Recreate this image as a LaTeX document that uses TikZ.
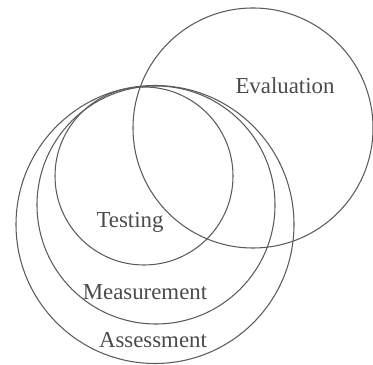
\documentclass[tikz,border=0pt]{standalone}
\usepackage{fontspec}
\setmainfont{Liberation Serif}
\usepackage{tikz}
\definecolor{INK}{HTML}{4A4A4A}
\definecolor{RING}{HTML}{5A5A5A}

\begin{document}
\begin{tikzpicture}[x=0.03cm,y=0.03cm]
\tikzset{ring/.style={RING,line width=0.9pt},lbl/.style={INK,font=\fontsize{19.5}{20}\selectfont,inner sep=0pt}}
\useasboundingbox (0,0) rectangle (373,364);
\draw[ring] (253,236) circle (120);
\draw[ring] (144,188) circle (89);
\draw[ring] (156,159) circle (119);
\draw[ring] (155,139.5) circle (139);
\node[lbl] (eval) at (285,278) {Evaluation};
\node[lbl] (test) at (130,142) {Testing};
\node[lbl] (meas) at (145,72) {Measurement};
\node[lbl] (asse) at (153,24) {Assessment};
\end{tikzpicture}
\end{document}
